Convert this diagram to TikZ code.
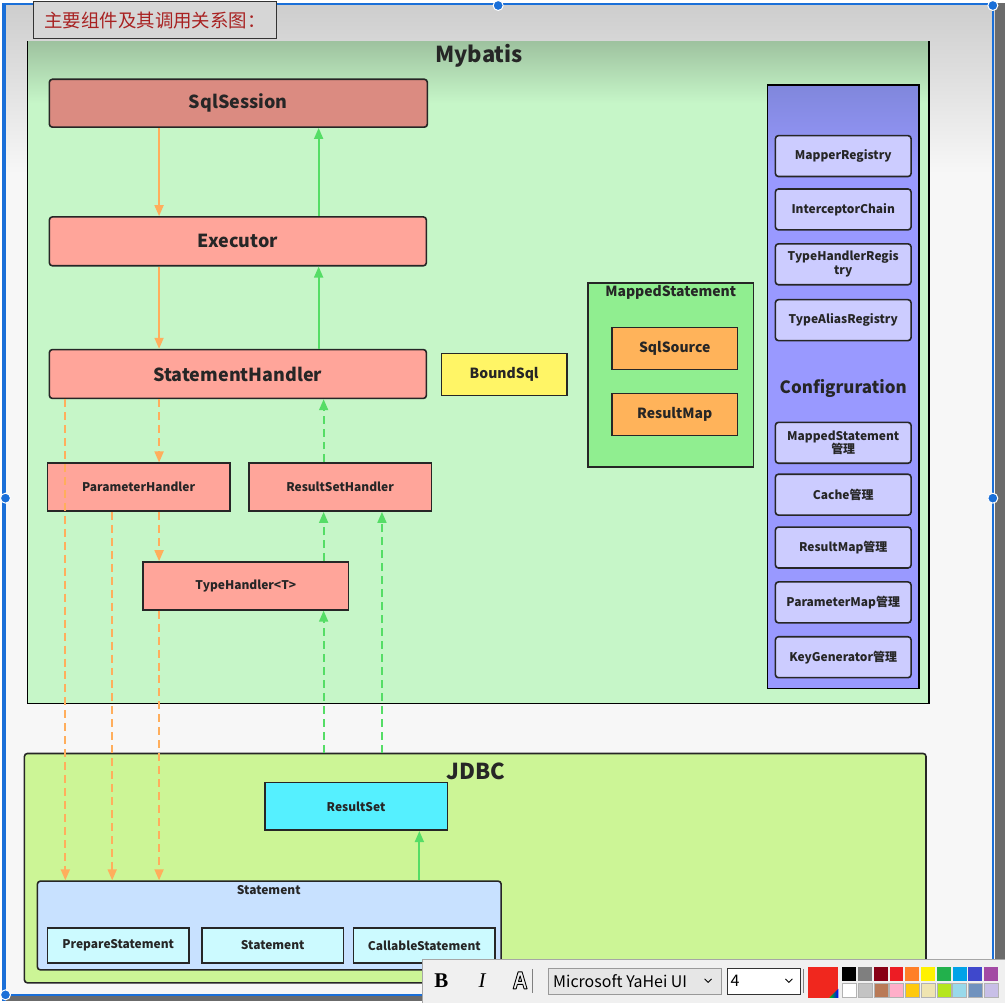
\documentclass[tikz,border=0pt]{standalone}
\usepackage{fontspec}
\setmainfont{Noto Sans CJK SC}
\newfontfamily\uiserif{Liberation Serif}
\usepackage{xcolor}
\usetikzlibrary{arrows.meta}

\definecolor{pagebg}{HTML}{F7F7F7}
\definecolor{topgray}{HTML}{CDCDCD}
\definecolor{darkstrip}{HTML}{6B6B6B}
\definecolor{selblue}{HTML}{1A6FD8}
\definecolor{titlegray}{HTML}{D6D6D6}
\definecolor{titlered}{HTML}{A82222}
\definecolor{mybgreen}{HTML}{C6F6C8}
\definecolor{mybtop}{HTML}{9EC29F}
\definecolor{sqlred}{HTML}{DB8B81}
\definecolor{compred}{HTML}{FFA59A}
\definecolor{boundyellow}{HTML}{FFF566}
\definecolor{msgreen}{HTML}{90EE90}
\definecolor{srcorange}{HTML}{FFB35A}
\definecolor{cfgblue}{HTML}{9999FF}
\definecolor{cfgtop}{HTML}{8087DC}
\definecolor{cfgitem}{HTML}{CCCCFF}
\definecolor{jdbcgreen}{HTML}{CCF596}
\definecolor{rscyan}{HTML}{55F0FF}
\definecolor{stgblue}{HTML}{C8E1FF}
\definecolor{jdbcitem}{HTML}{CCFAFF}
\definecolor{callorange}{HTML}{FFAE5C}
\definecolor{retgreen}{HTML}{55DD66}
\definecolor{inkdark}{HTML}{262626}
\definecolor{tbgray}{HTML}{F0F0F0}
\definecolor{ddgray}{HTML}{E6E6E6}
\definecolor{swred}{HTML}{F0271E}

\begin{document}
\begin{tikzpicture}[x=1pt,y=-1pt,
  box/.style={draw=black!85,line width=1.6pt,inner sep=0pt,text=inkdark},
  bigbox/.style={box,rounded corners=3pt,fill=compred,minimum width=378pt,minimum height=49pt,font=\bfseries\fontsize{18}{20}\selectfont},
  smallbox/.style={box,fill=compred,minimum width=183pt,minimum height=48pt,font=\bfseries\fontsize{12}{14}\selectfont},
  midbox/.style={box,minimum width=126pt,minimum height=42pt,font=\bfseries\fontsize{14}{16}\selectfont},
  cfgbox/.style={box,rounded corners=3pt,fill=cfgitem,minimum width=136pt,minimum height=41pt,align=center,font=\bfseries\fontsize{12}{14}\selectfont},
  jdbcbox/.style={box,fill=jdbcitem,minimum width=142pt,minimum height=35pt,font=\bfseries\fontsize{12}{14}\selectfont},
  grouptitle/.style={inner sep=0pt,text=inkdark,font=\bfseries\fontsize{14}{16}\selectfont},
  bigtitle/.style={inner sep=0pt,text=inkdark,font=\bfseries\fontsize{22}{24}\selectfont},
  callarr/.style={draw=callorange,line width=1.8pt,-{Triangle[length=11pt,width=9pt]}},
  retarr/.style={callarr,draw=retgreen},
  calldash/.style={callarr,dash pattern=on 8pt off 5pt},
  retdash/.style={retarr,dash pattern=on 8pt off 5pt}]

% background and screen frame
\fill[pagebg] (0,0) rectangle (1005,1000);
\shade[top color=topgray,bottom color=pagebg] (0,0) rectangle (1005,170);
\fill[darkstrip] (995,0) rectangle (1005,1000);
\fill[darkstrip] (0,995) rectangle (1005,1000);
\fill[selblue] (0,0) rectangle (4,1000);
\draw[selblue,line width=2pt] (3,1) -- (993,1) -- (993,994) -- (3,994);

% title
\node[draw=black!80,line width=1pt,fill=titlegray,minimum width=244pt,minimum height=37pt,inner sep=0pt,text=titlered,font=\fontsize{18.5}{20}\selectfont] (ttl) at (153,17) {主要组件及其调用关系图：};

% Mybatis
\fill[mybgreen] (25,38) rectangle (929,702);
\shade[top color=mybtop,bottom color=mybgreen] (25,38) rectangle (929,100);
\draw[line width=1.6pt] (25,38) -- (25,702) -- (929,702) -- (929,38);
\node[bigtitle] (mybt) at (478,52) {Mybatis};

\node[bigbox,fill=sqlred,minimum width=379pt,minimum height=48pt] (sqls) at (236.5,100) {SqlSession};
\node[bigbox] (exec) at (236,238.5) {Executor};
\node[bigbox] (sth) at (236,371.5) {StatementHandler};
\node[smallbox] (phd) at (136.5,485) {ParameterHandler};
\node[smallbox] (rshd) at (338.5,485) {ResultSetHandler};
\node[smallbox,minimum width=206pt] (thd) at (244,584) {TypeHandler<T>};
\node[midbox,fill=boundyellow] (bsql) at (503,372) {BoundSql};

\node[box,fill=msgreen,minimum width=166pt,minimum height=185pt] (msg) at (670,372.5) {};
\node[grouptitle] (msgt) at (670,290) {MappedStatement};
\node[midbox,fill=srcorange] (ssrc) at (674,346) {SqlSource};
\node[midbox,fill=srcorange] (rmap) at (674,412) {ResultMap};

% Configuration
\fill[cfgblue] (767,82) rectangle (919,687);
\shade[top color=cfgtop,bottom color=cfgblue] (767,82) rectangle (919,170);
\draw[line width=1.6pt] (767,82) rectangle (919,687);
\node[cfgbox] (mreg) at (843,153) {MapperRegistry};
\node[cfgbox] (ichain) at (843,206.5) {InterceptorChain};
\node[cfgbox] (threg) at (843,261.5) {TypeHandlerRegis\\try};
\node[cfgbox] (tareg) at (843,317.5) {TypeAliasRegistry};
\node[inner sep=0pt,text=inkdark,font=\bfseries\fontsize{17}{19}\selectfont] (conft) at (843,386) {Configruration};
\node[cfgbox] (msmgr) at (843,440.5) {MappedStatement\\管理};
\node[cfgbox] (cmgr) at (843,492.5) {Cache管理};
\node[cfgbox] (rmmgr) at (843,545.5) {ResultMap管理};
\node[cfgbox] (pmmgr) at (843,600.5) {ParameterMap管理};
\node[cfgbox] (kgmgr) at (843,655.5) {KeyGenerator管理};

% JDBC
\node[box,rounded corners=3pt,fill=jdbcgreen,minimum width=904pt,minimum height=230pt] (jdbc) at (474,867) {};
\node[bigtitle] (jdbct) at (475,770) {JDBC};
\node[box,fill=rscyan,minimum width=183pt,minimum height=48pt,font=\bfseries\fontsize{12}{14}\selectfont] (rset) at (354.5,805) {ResultSet};
\node[box,rounded corners=3pt,fill=stgblue,minimum width=465pt,minimum height=89pt] (stmtg) at (267.5,924.5) {};
\node[grouptitle,font=\bfseries\fontsize{12}{14}\selectfont] (stmtt) at (267,889) {Statement};
\node[jdbcbox] (pst) at (116,944.5) {PrepareStatement};
\node[jdbcbox] (st) at (271,944.5) {Statement};
\node[jdbcbox] (cst) at (423,944.5) {CallableStatement};

% call and return lines
\coordinate (xa) at (157,0);
\coordinate (xb) at (317,0);
\coordinate (xc) at (322,0);
\coordinate (xd) at (380.5,0);
\coordinate (xe) at (63,0);
\coordinate (xf) at (110,0);
\coordinate (xg) at (418,0);
\draw[callarr] (sqls.south -| xa) -- (exec.north -| xa);
\draw[retarr] (exec.north -| xb) -- (sqls.south -| xb);
\draw[callarr] (exec.south -| xa) -- (sth.north -| xa);
\draw[retarr] (sth.north -| xb) -- (exec.south -| xb);
\draw[calldash] (sth.south -| xa) -- (phd.north -| xa);
\draw[retdash] (rshd.north -| xc) -- (sth.south -| xc);
\draw[calldash] (phd.south -| xa) -- (thd.north -| xa);
\draw[retdash] (thd.north -| xc) -- (rshd.south -| xc);
\draw[retdash] (jdbc.north -| xc) -- (thd.south -| xc);
\draw[retdash] (jdbc.north -| xd) -- (rshd.south -| xd);
\draw[calldash] (sth.south -| xe) -- (stmtg.north -| xe);
\draw[calldash] (phd.south -| xf) -- (stmtg.north -| xf);
\draw[calldash] (thd.south -| xa) -- (stmtg.north -| xa);
\draw[retarr] (stmtg.north -| xg) -- (rset.south -| xg);

% toolbar
\node[draw=gray!70,fill=tbgray,minimum width=584pt,minimum height=44pt,inner sep=0pt] (tbar) at (713,980) {};
\node[inner sep=0pt,font=\uiserif\bfseries\fontsize{21}{22}\selectfont] (bbtn) at (440,980) {B};
\node[inner sep=0pt,font=\uiserif\itshape\fontsize{21}{22}\selectfont] (ibtn) at (481,980) {I};
\draw[line width=0.9pt,line join=round] (512,988) -- (517,971) -- (521,971) -- (526,988) -- (523,988) -- (521.7,983.5) -- (516.3,983.5) -- (515,988) -- cycle
  (517.4,980.5) -- (519,975) -- (520.6,980.5) -- cycle;
\draw[gray] (531,968) -- (531,992);
\node[draw=gray!80,fill=ddgray,minimum width=174pt,minimum height=26pt,inner sep=0pt] (fontdd) at (634,980) {};
\node[anchor=west,inner sep=0pt,font=\fontsize{16}{18}\selectfont] (fontname) at (552,980) {Microsoft YaHei UI};
\draw[line width=0.8pt] (704,978) -- (707.5,981.5) -- (711,978);
\node[draw=black!80,fill=white,minimum width=73pt,minimum height=26pt,inner sep=0pt] (sizedd) at (763.5,980) {};
\node[anchor=west,inner sep=0pt,font=\fontsize{16}{18}\selectfont] (sizeval) at (730,980) {4};
\draw[line width=0.8pt] (785,978) -- (788.5,981.5) -- (792,978);
\draw[gray] (803,968) -- (803,992);
\fill[swred] (808,966) rectangle (838,997);
\shade[left color=green!80!black,right color=blue] (829,997) -- (838,988) -- (838,997) -- cycle;
\foreach \hx [count=\i from 0] in {000000,7F7F7F,880015,ED1C24,FF7F27,FFF200,22B14C,00A2E8,3F48CC,A349A4}{
  \definecolor{swc}{HTML}{\hx}
  \fill[swc] (842+15.8*\i,966) rectangle +(14,14);
}
\foreach \hx [count=\i from 0] in {FFFFFF,C3C3C3,B97A57,FFAEC9,FFC90E,EFE4B0,B5E61D,99D9EA,7092BE,C8BFE7}{
  \definecolor{swc}{HTML}{\hx}
  \filldraw[fill=swc,draw=gray!60] (842+15.8*\i,982) rectangle +(14,14);
}

% selection handles
\foreach \p in {(497,2),(3,496),(993,496),(3,994),(993,2)}
  \filldraw[fill=selblue,draw=white,line width=1pt] \p circle (5pt);

\useasboundingbox (0,0) rectangle (1005,1000);
\end{tikzpicture}
\end{document}
